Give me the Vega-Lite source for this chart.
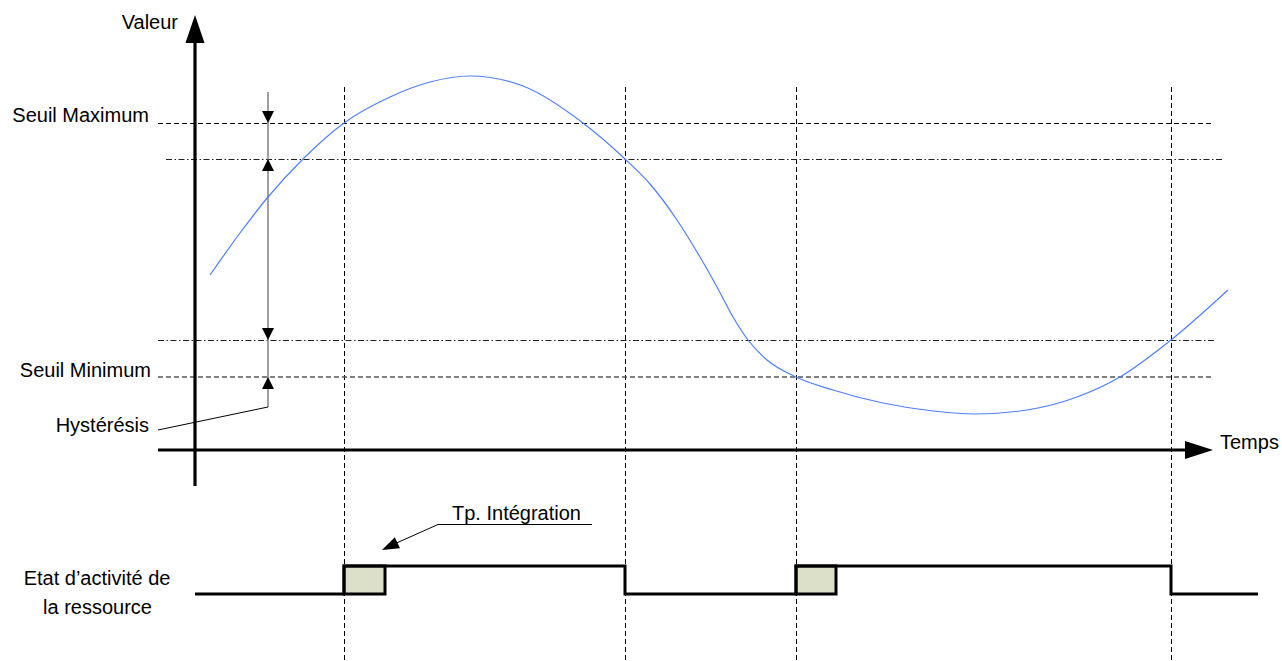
{
  "$schema": "https://vega.github.io/schema/vega-lite/v6.json",
  "width": 1282,
  "height": 661,
  "autosize": {"type": "none"},
  "padding": 0,
  "background": "white",
  "config": {"view": {"stroke": null}},
  "datasets": {
    "axes": [{"x": 195, "y": 486, "x2": 195, "y2": 42}, {"x": 158, "y": 450, "x2": 1186, "y2": 450}],
    "dashedBlack": [
      {"x": 158, "y": 123.5, "x2": 1213, "y2": 123.5},
      {"x": 344.5, "y": 87, "x2": 344.5, "y2": 661},
      {"x": 625.5, "y": 87, "x2": 625.5, "y2": 661},
      {"x": 796.5, "y": 87, "x2": 796.5, "y2": 661},
      {"x": 1171.5, "y": 87, "x2": 1171.5, "y2": 661}
    ],
    "dashedGray": [{"x": 158, "y": 377, "x2": 1213, "y2": 377}],
    "dashDot": [{"x": 166, "y": 159.5, "x2": 1222, "y2": 159.5}, {"x": 158, "y": 340.5, "x2": 1214, "y2": 340.5}],
    "grayLine": [{"x": 268, "y": 92, "x2": 268, "y2": 407}],
    "leaders": [
      {"x": 268, "y": 407, "x2": 158, "y2": 430},
      {"x": 438, "y": 524.5, "x2": 592, "y2": 524.5},
      {"x": 438, "y": 524.5, "x2": 392, "y2": 545}
    ],
    "curve": [
      {"x": 210, "y": 275}, {"x": 240, "y": 233}, {"x": 268, "y": 197}, {"x": 303, "y": 159},
      {"x": 344, "y": 123}, {"x": 390, "y": 97}, {"x": 430, "y": 82}, {"x": 470, "y": 76},
      {"x": 523, "y": 86}, {"x": 583, "y": 123}, {"x": 625, "y": 159}, {"x": 650, "y": 184},
      {"x": 677, "y": 220}, {"x": 700, "y": 257}, {"x": 717, "y": 287}, {"x": 733, "y": 317},
      {"x": 748, "y": 340}, {"x": 767, "y": 360}, {"x": 796, "y": 377}, {"x": 833, "y": 390},
      {"x": 883, "y": 403}, {"x": 933, "y": 411}, {"x": 975, "y": 414}, {"x": 1027, "y": 410},
      {"x": 1077, "y": 397}, {"x": 1120, "y": 377}, {"x": 1171, "y": 340}, {"x": 1228, "y": 290}
    ],
    "signal": [
      {"i": 0, "x": 195, "y": 594}, {"i": 1, "x": 344, "y": 594}, {"i": 2, "x": 344, "y": 566},
      {"i": 3, "x": 625, "y": 566}, {"i": 4, "x": 625, "y": 594}, {"i": 5, "x": 796, "y": 594},
      {"i": 6, "x": 796, "y": 566}, {"i": 7, "x": 1171, "y": 566}, {"i": 8, "x": 1171, "y": 594},
      {"i": 9, "x": 1258, "y": 594}
    ],
    "boxes": [{"x": 344, "x2": 385, "y": 566, "y2": 594}, {"x": 796, "x2": 836, "y": 566, "y2": 594}],
    "arrowBigUp": [{"x": 195, "y": 15}],
    "arrowRight": [{"x": 1213, "y": 450}],
    "arrowsDown": [{"x": 268, "y": 123}, {"x": 268, "y": 340}],
    "arrowsUp": [{"x": 268, "y": 159}, {"x": 268, "y": 377}],
    "arrowDiag": [{"x": 382, "y": 550}],
    "textRight": [
      {"x": 178, "y": 29, "t": "Valeur"},
      {"x": 149, "y": 122, "t": "Seuil Maximum"},
      {"x": 151, "y": 377, "t": "Seuil Minimum"},
      {"x": 149, "y": 432, "t": "Hystérésis"}
    ],
    "textLeft": [
      {"x": 1220, "y": 449, "t": "Temps"},
      {"x": 452, "y": 520, "t": "Tp. Intégration"}
    ],
    "textCenter": [
      {"x": 97, "y": 585, "t": "Etat d’activité de"},
      {"x": 97.5, "y": 614, "t": "la ressource"}
    ]
  },
  "encoding": {
    "x": {"field": "x", "type": "quantitative", "scale": {"domain": [0, 1282], "nice": false, "zero": false}, "axis": null},
    "y": {"field": "y", "type": "quantitative", "scale": {"domain": [0, 661], "nice": false, "zero": false, "reverse": true}, "axis": null}
  },
  "layer": [
    {
      "data": {"name": "dashedBlack"},
      "mark": {"type": "rule", "color": "#000000", "strokeWidth": 1, "strokeDash": [5, 3]},
      "encoding": {"x2": {"field": "x2"}, "y2": {"field": "y2"}}
    },
    {
      "data": {"name": "dashedGray"},
      "mark": {"type": "rule", "color": "#555555", "strokeWidth": 1.5, "strokeDash": [5, 3]},
      "encoding": {"x2": {"field": "x2"}, "y2": {"field": "y2"}}
    },
    {
      "data": {"name": "dashDot"},
      "mark": {"type": "rule", "color": "#222222", "strokeWidth": 1, "strokeDash": [6, 2.5, 1.5, 2.5]},
      "encoding": {"x2": {"field": "x2"}, "y2": {"field": "y2"}}
    },
    {
      "data": {"name": "grayLine"},
      "mark": {"type": "rule", "color": "#808080", "strokeWidth": 1.5},
      "encoding": {"x2": {"field": "x2"}, "y2": {"field": "y2"}}
    },
    {
      "data": {"name": "leaders"},
      "mark": {"type": "rule", "color": "#000000", "strokeWidth": 1},
      "encoding": {"x2": {"field": "x2"}, "y2": {"field": "y2"}}
    },
    {
      "data": {"name": "curve"},
      "mark": {"type": "line", "color": "#4f7fff", "strokeWidth": 1.2, "interpolate": "monotone"}
    },
    {
      "data": {"name": "axes"},
      "mark": {"type": "rule", "color": "#000000", "strokeWidth": 3.2},
      "encoding": {"x2": {"field": "x2"}, "y2": {"field": "y2"}}
    },
    {
      "data": {"name": "boxes"},
      "mark": {"type": "rect", "fill": "#dde0c9", "stroke": "#000000", "strokeWidth": 3},
      "encoding": {"x2": {"field": "x2"}, "y2": {"field": "y2"}}
    },
    {
      "data": {"name": "signal"},
      "mark": {"type": "line", "color": "#000000", "strokeWidth": 3, "strokeJoin": "miter", "strokeCap": "butt"},
      "encoding": {"order": {"field": "i", "type": "quantitative"}}
    },
    {
      "data": {"name": "arrowBigUp"},
      "mark": {"type": "point", "filled": true, "color": "#000000", "opacity": 1, "strokeWidth": 0, "size": 3136, "shape": "M0,0L0.34,1L-0.34,1Z"}
    },
    {
      "data": {"name": "arrowRight"},
      "mark": {"type": "point", "filled": true, "color": "#000000", "opacity": 1, "strokeWidth": 0, "size": 3136, "shape": "M0,0L-1,-0.32L-1,0.32Z"}
    },
    {
      "data": {"name": "arrowsDown"},
      "mark": {"type": "point", "filled": true, "color": "#000000", "opacity": 1, "strokeWidth": 0, "size": 576, "shape": "M0,0L0.5,-1L-0.5,-1Z"}
    },
    {
      "data": {"name": "arrowsUp"},
      "mark": {"type": "point", "filled": true, "color": "#000000", "opacity": 1, "strokeWidth": 0, "size": 576, "shape": "M0,0L0.5,1L-0.5,1Z"}
    },
    {
      "data": {"name": "arrowDiag"},
      "mark": {"type": "point", "filled": true, "color": "#000000", "opacity": 1, "strokeWidth": 0, "size": 1156, "angle": 335, "shape": "M0,0L1,-0.36L1,0.36Z"}
    },
    {
      "data": {"name": "textRight"},
      "mark": {"type": "text", "align": "right", "baseline": "alphabetic", "font": "Liberation Sans", "fontSize": 20, "color": "#000000"},
      "encoding": {"text": {"field": "t"}}
    },
    {
      "data": {"name": "textLeft"},
      "mark": {"type": "text", "align": "left", "baseline": "alphabetic", "font": "Liberation Sans", "fontSize": 20, "color": "#000000"},
      "encoding": {"text": {"field": "t"}}
    },
    {
      "data": {"name": "textCenter"},
      "mark": {"type": "text", "align": "center", "baseline": "alphabetic", "font": "Liberation Sans", "fontSize": 20, "color": "#000000"},
      "encoding": {"text": {"field": "t"}}
    }
  ]
}
